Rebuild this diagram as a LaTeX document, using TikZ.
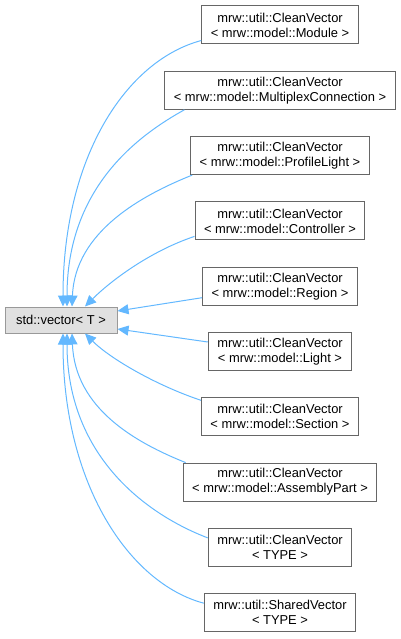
\documentclass[tikz,border=0pt]{standalone}
\usepackage{fontspec}
\setmainfont{Liberation Sans}
\usetikzlibrary{arrows.meta,calc}
\definecolor{edgeblue}{HTML}{63B8FF}
\definecolor{basefill}{HTML}{E0E0E0}
\definecolor{baseborder}{HTML}{999999}
\definecolor{nodeborder}{HTML}{666666}
\begin{document}
\begin{tikzpicture}[x=1pt,y=-1pt,
  cls/.style={draw=nodeborder, fill=white, line width=1pt, align=center,
    font=\fontsize{12.9}{15}\selectfont, inner xsep=9pt, inner ysep=0pt,
    minimum height=38pt},
  basecls/.style={draw=baseborder, fill=basefill, line width=1pt,
    font=\fontsize{12.9}{15}\selectfont, minimum width=112pt,
    minimum height=26pt, inner sep=0pt},
  edge/.style={draw=edgeblue, line width=1pt,
    -{Triangle[length=11pt,width=10pt]}}]
\useasboundingbox (0,0) rectangle (401,639);
\node[basecls] (base) at (61,320) {std::vector< T >};
\node[cls] (m1) at (280,25) {mrw::util::CleanVector\\< mrw::model::Module >};
\node[cls] (m2) at (280,90.3) {mrw::util::CleanVector\\< mrw::model::MultiplexConnection >};
\node[cls] (m3) at (280,155.6) {mrw::util::CleanVector\\< mrw::model::ProfileLight >};
\node[cls] (m4) at (280,220.9) {mrw::util::CleanVector\\< mrw::model::Controller >};
\node[cls] (m5) at (280,286.2) {mrw::util::CleanVector\\< mrw::model::Region >};
\node[cls] (m6) at (280,351.5) {mrw::util::CleanVector\\< mrw::model::Light >};
\node[cls] (m7) at (280,416.8) {mrw::util::CleanVector\\< mrw::model::Section >};
\node[cls] (m8) at (280,482.1) {mrw::util::CleanVector\\< mrw::model::AssemblyPart >};
\node[cls] (m9) at (280,547.4) {mrw::util::CleanVector\\< TYPE >};
\node[cls] (m10) at (280,612.7) {mrw::util::SharedVector\\< TYPE >};
\draw[edge] ($(m1.south west)+(0,-4)$) .. controls +(-75,20) and +(0,-150) .. ($(base.north)+(2,0)$);
\draw[edge] ($(m2.south west)+(20,0)$) .. controls +(-45,25) and +(0,-120) .. ($(base.north)+(6,0)$);
\draw[edge] ($(m3.south west)+(2,0)$) .. controls +(-50,20) and +(3,-75) .. ($(base.north)+(11,0)$);
\draw[edge] ($(m4.south west)+(0,-4)$) .. controls +(-45,15) and +(25,-25) .. ($(base.north)+(24,0)$);
\draw[edge] ($(m5.south west)+(0,-8)$) -- ($(base.east)+(0,-9)$);
\draw[edge] ($(m6.north west)+(0,10)$) -- ($(base.east)+(0,9)$);
\draw[edge] ($(m7.north west)+(0,3)$) .. controls +(-45,-15) and +(25,25) .. ($(base.south)+(24,0)$);
\draw[edge] ($(m8.north west)+(3,0)$) .. controls +(-50,-20) and +(3,75) .. ($(base.south)+(11,0)$);
\draw[edge] ($(m9.north west)+(0,10)$) .. controls +(-65,-25) and +(0,120) .. ($(base.south)+(6,0)$);
\draw[edge] ($(m10.north west)+(0,10)$) .. controls +(-75,-20) and +(0,150) .. ($(base.south)+(2,0)$);
\end{tikzpicture}
\end{document}
